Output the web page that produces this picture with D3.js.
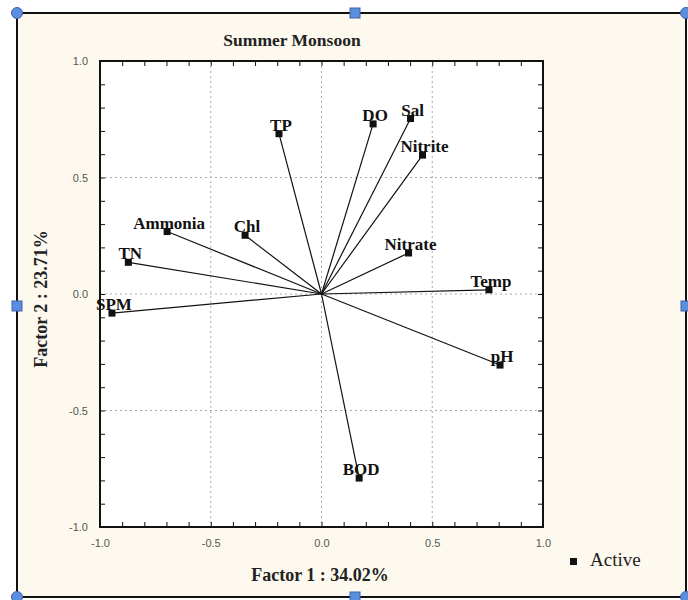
<!DOCTYPE html>
<html>
<head>
<meta charset="utf-8">
<script src="https://cdn.jsdelivr.net/npm/d3@7"></script>
<style>
  html, body { margin: 0; padding: 0; background: #fff; }
  svg { display: block; }
</style>
</head>
<body>
<div id="chart"></div>
<script>
// DATA
const variables = ["SPM", "TN", "Ammonia", "Chl", "TP", "DO", "Sal", "Nitrite", "Nitrate", "Temp", "pH", "BOD"];
const factor1 = [-0.946, -0.872, -0.697, -0.345, -0.192, 0.233, 0.402, 0.456, 0.393, 0.756, 0.806, 0.170];
const factor2 = [-0.082, 0.136, 0.268, 0.252, 0.688, 0.730, 0.753, 0.596, 0.176, 0.018, -0.305, -0.790];
const majorTicks = [-1.0, -0.5, 0.0, 0.5, 1.0];
const gridTicks = [-0.5, 0.0, 0.5];
const minorTicks = d3.range(-10, 11).map((i) => i / 10);

const width = 688;
const height = 600;
const plot = { left: 100, right: 543, top: 61, bottom: 527 };
const serif = "Liberation Serif, Times New Roman, serif";

const svg = d3
  .select("#chart")
  .append("svg")
  .attr("width", width)
  .attr("height", height);

// FRAME
svg
  .append("rect")
  .attr("x", 17)
  .attr("y", 13)
  .attr("width", 669)
  .attr("height", 584)
  .attr("fill", "#fdf9ee")
  .attr("stroke", "#111")
  .attr("stroke-width", 2);

// SCALES
const xScale = d3.scaleLinear().domain([-1, 1]).range([plot.left, plot.right]);
const yScale = d3.scaleLinear().domain([-1, 1]).range([plot.bottom, plot.top]);

// PLOT AREA
svg
  .append("rect")
  .attr("x", plot.left)
  .attr("y", plot.top)
  .attr("width", plot.right - plot.left)
  .attr("height", plot.bottom - plot.top)
  .attr("fill", "#fff");

// GRID
const grid = svg.append("g").attr("stroke", "#aaa").attr("stroke-dasharray", "2,3");
grid
  .selectAll("line.gx")
  .data(gridTicks)
  .join("line")
  .attr("class", "gx")
  .attr("x1", (d) => xScale(d))
  .attr("x2", (d) => xScale(d))
  .attr("y1", plot.top)
  .attr("y2", plot.bottom);
grid
  .selectAll("line.gy")
  .data(gridTicks)
  .join("line")
  .attr("class", "gy")
  .attr("y1", (d) => yScale(d))
  .attr("y2", (d) => yScale(d))
  .attr("x1", plot.left)
  .attr("x2", plot.right);

// AXES (inner ticks on all four sides)
const tickFmt = (d) => d3.format(".1f")(d).replace("−", "-");
const axisStyle = (g) => {
  g.select(".domain").remove();
  g.selectAll(".tick line").attr("stroke", "#111");
  g.selectAll(".tick text").remove();
};
svg
  .append("g")
  .attr("transform", `translate(0,${plot.bottom})`)
  .call(d3.axisTop(xScale).tickValues(minorTicks).tickSize(5))
  .call(axisStyle);
svg
  .append("g")
  .attr("transform", `translate(0,${plot.top})`)
  .call(d3.axisBottom(xScale).tickValues(minorTicks).tickSize(5))
  .call(axisStyle);
svg
  .append("g")
  .attr("transform", `translate(${plot.left},0)`)
  .call(d3.axisRight(yScale).tickValues(minorTicks).tickSize(5))
  .call(axisStyle);
svg
  .append("g")
  .attr("transform", `translate(${plot.right},0)`)
  .call(d3.axisLeft(yScale).tickValues(minorTicks).tickSize(5))
  .call(axisStyle);

// tick labels
const xLabels = svg
  .append("g")
  .attr("transform", `translate(0,${plot.bottom})`)
  .call(d3.axisBottom(xScale).tickValues(majorTicks).tickFormat(tickFmt).tickSize(0).tickPadding(12));
xLabels.select(".domain").remove();
const yLabels = svg
  .append("g")
  .attr("transform", `translate(${plot.left},0)`)
  .call(d3.axisLeft(yScale).tickValues(majorTicks).tickFormat(tickFmt).tickSize(0).tickPadding(12));
yLabels.select(".domain").remove();
svg
  .selectAll(".tick text")
  .attr("font-family", "Liberation Sans, Arial, sans-serif")
  .attr("font-size", 11)
  .attr("fill", "#555");

// plot border
svg
  .append("rect")
  .attr("x", plot.left)
  .attr("y", plot.top)
  .attr("width", plot.right - plot.left)
  .attr("height", plot.bottom - plot.top)
  .attr("fill", "none")
  .attr("stroke", "#111")
  .attr("stroke-width", 2);

// LOADINGS
const points = variables.map((name, i) => ({ name, x: factor1[i], y: factor2[i] }));
const vectors = svg.append("g");
vectors
  .selectAll("line")
  .data(points)
  .join("line")
  .attr("x1", xScale(0))
  .attr("y1", yScale(0))
  .attr("x2", (d) => xScale(d.x))
  .attr("y2", (d) => yScale(d.y))
  .attr("stroke", "#111")
  .attr("stroke-width", 1.2);
vectors
  .selectAll("rect")
  .data(points)
  .join("rect")
  .attr("x", (d) => xScale(d.x) - 3.5)
  .attr("y", (d) => yScale(d.y) - 3.5)
  .attr("width", 7)
  .attr("height", 7)
  .attr("fill", "#111");
vectors
  .selectAll("text")
  .data(points)
  .join("text")
  .attr("x", (d) => xScale(d.x) + 2)
  .attr("y", (d) => yScale(d.y) - 3)
  .attr("text-anchor", "middle")
  .attr("font-family", serif)
  .attr("font-weight", "bold")
  .attr("font-size", 17)
  .attr("fill", "#111")
  .text((d) => d.name);

// TITLES
svg
  .append("text")
  .attr("x", 292)
  .attr("y", 46)
  .attr("text-anchor", "middle")
  .attr("font-family", serif)
  .attr("font-weight", "bold")
  .attr("font-size", 17.5)
  .attr("fill", "#222")
  .text("Summer Monsoon");
svg
  .append("text")
  .attr("x", 320)
  .attr("y", 581)
  .attr("text-anchor", "middle")
  .attr("font-family", serif)
  .attr("font-weight", "bold")
  .attr("font-size", 18)
  .attr("fill", "#222")
  .text("Factor 1 : 34.02%");
svg
  .append("text")
  .attr("transform", "translate(47,299) rotate(-90)")
  .attr("text-anchor", "middle")
  .attr("font-family", serif)
  .attr("font-weight", "bold")
  .attr("font-size", 18)
  .attr("fill", "#222")
  .text("Factor 2 : 23.71%");

// LEGEND
svg
  .append("rect")
  .attr("x", 570)
  .attr("y", 558)
  .attr("width", 7)
  .attr("height", 7)
  .attr("fill", "#111");
svg
  .append("text")
  .attr("x", 590)
  .attr("y", 566)
  .attr("font-family", serif)
  .attr("font-size", 19)
  .attr("fill", "#222")
  .text("Active");

// SELECTION HANDLES
const handleFill = "#5b8ee0";
const handleStroke = "#3a64a8";
[[17, 13], [686, 13], [17, 597], [686, 597]].forEach(([cx, cy]) => {
  svg
    .append("circle")
    .attr("cx", cx)
    .attr("cy", cy)
    .attr("r", 5.5)
    .attr("fill", handleFill)
    .attr("stroke", handleStroke);
});
[[355, 13], [17, 306], [686, 306], [355, 597]].forEach(([cx, cy]) => {
  svg
    .append("rect")
    .attr("x", cx - 5)
    .attr("y", cy - 5)
    .attr("width", 10)
    .attr("height", 10)
    .attr("fill", handleFill)
    .attr("stroke", handleStroke);
});
</script>
</body>
</html>
